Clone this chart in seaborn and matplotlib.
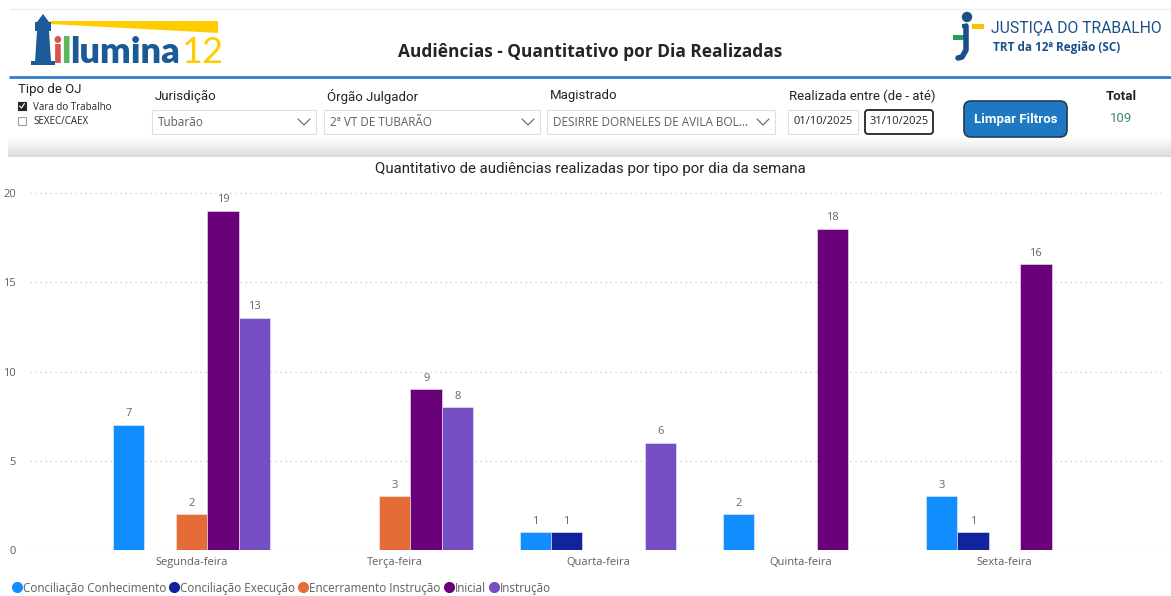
import numpy as np
import pandas as pd
import matplotlib
matplotlib.use("Agg")
import matplotlib.pyplot as plt
from matplotlib.patches import Rectangle, FancyBboxPatch, Polygon, Circle
import seaborn as sns

# Data
dias = ["Segunda-feira", "Terça-feira", "Quarta-feira", "Quinta-feira", "Sexta-feira"]
tipos = ["Conciliação Conhecimento", "Conciliação Execução", "Encerramento Instrução", "Inicial", "Instrução"]
conc_conhecimento = [7, 0, 1, 2, 3]
conc_execucao = [0, 0, 1, 0, 1]
encerramento = [2, 3, 0, 0, 0]
inicial = [19, 9, 0, 18, 16]
instrucao = [13, 8, 6, 0, 0]
cores = ["#118DFF", "#12239E", "#E66C37", "#6B007B", "#744EC2"]
y_ticks = [0, 5, 10, 15, 20]

valores = [conc_conhecimento, conc_execucao, encerramento, inicial, instrucao]
rows = []
for tipo, vals in zip(tipos, valores):
    for dia, v in zip(dias, vals):
        rows.append({"Dia": dia, "Tipo": tipo, "Qtd": v})
df = pd.DataFrame(rows)

sns.set_style("white")
plt.rcParams["font.family"] = ["Open Sans", "DejaVu Sans"]

W, H = 1171, 596
fig = plt.figure(figsize=(W / 100, H / 100), dpi=100)

# background axes in pixel coords for the dashboard header
bg = fig.add_axes([0, 0, 1, 1])
bg.set_xlim(0, W)
bg.set_ylim(H, 0)
bg.axis("off")

# faint top border and blue separator
bg.plot([10, W], [9, 9], color="#eeeeee", lw=1)
bg.plot([10, W], [77, 77], color="#2f7fd0", lw=2)

# shadow under filters panel
grad = np.linspace(1.0, 0.86, 40).reshape(-1, 1)
bg.imshow(np.dstack([grad, grad, grad]), extent=[8, W, 157, 137], aspect="auto", zorder=0)

# illumina logo
dark_blue = "#1a5a96"
bg.add_patch(Polygon([[50, 21], [218, 21], [218, 33], [50, 24]], closed=True, color="#ffcc00", lw=0))
bg.add_patch(Polygon([[35, 62], [37, 31], [49, 31], [51, 62]], closed=True, color=dark_blue, lw=0))
bg.add_patch(Rectangle((35, 22), 16, 9, color=dark_blue, lw=0))
bg.add_patch(Polygon([[37, 22], [43, 14], [49, 22]], closed=True, color=dark_blue, lw=0))
bg.add_patch(Rectangle((31, 61), 24, 4, color=dark_blue, lw=0))
logo = dict(fontsize=26, fontweight="heavy", va="baseline", family=["Lato", "DejaVu Sans"])
bg.text(53, 63, "i", color="#d9534f", **logo)
bg.text(61, 63, "l", color="#5cb85c", **logo)
bg.text(70, 63, "lumina", color=dark_blue, **logo)
bg.text(181, 63, "12", color="#ffcc00", fontsize=26, va="baseline", family=["Lato", "DejaVu Sans"])

# header title
bg.text(590, 52, "Audiências - Quantitativo por Dia Realizadas", ha="center", va="center",
        fontsize=12.5, fontweight="bold", color="#252423")

# Justiça do Trabalho logo
bg.add_patch(Circle((967, 17), 4.5, color="#1b4f8a"))
bg.add_patch(Rectangle((972, 24), 12, 5, color="#f5c400", lw=0))
bg.add_patch(Rectangle((953, 35), 13, 5, color="#2a9d5a", lw=0))
bg.plot([962, 968], [26, 26], color="#1b4f8a", lw=3, solid_capstyle="butt")
bg.plot([966, 966, 962, 958], [26, 50, 57, 58], color="#1b4f8a", lw=4, solid_capstyle="round")
bg.text(991, 29, "JUSTIÇA DO TRABALHO", fontsize=11.3, color="#1b4f8a", va="center",
        family=["Roboto", "DejaVu Sans"])
bg.text(993, 47, "TRT da 12ª Região (SC)", fontsize=8.5, fontweight="bold", color="#1b4f8a", va="center")

# filters
lab = dict(fontsize=9.5, color="#252423", va="center", family=["Roboto", "DejaVu Sans"])
bg.text(18, 90, "Tipo de OJ", **lab)
bg.add_patch(Rectangle((18, 102), 8, 8, facecolor="#252423", edgecolor="#252423", lw=0.8))
bg.plot([19.5, 21.5, 24.5], [106, 108, 103.5], color="white", lw=0.8)
bg.text(33, 107, "Vara do Trabalho", fontsize=7, color="#252423", va="center")
bg.add_patch(Rectangle((18, 117), 8, 8, facecolor="white", edgecolor="#a0a0a0", lw=0.8))
bg.text(33, 122, "SEXEC/CAEX", fontsize=7, color="#252423", va="center")

def dropdown(x0, x1, label, texto):
    bg.text(x0 + 3, 96, label, **lab)
    bg.add_patch(Rectangle((x0, 110), x1 - x0, 24, facecolor="white", edgecolor="#e1dfdd", lw=0.8))
    bg.text(x0 + 6, 122, texto, fontsize=8.5, color="#605e5c", va="center")
    bg.plot([x1 - 18, x1 - 12, x1 - 6], [119, 125, 119], color="#605e5c", lw=0.8)

dropdown(152, 316, "Jurisdição", "Tubarão")
dropdown(324, 540, "Órgão Julgador", "2ª VT DE TUBARÃO")
dropdown(547, 775, "Magistrado", "DESIRRE DORNELES DE AVILA BOL...")

bg.text(789, 96, "Realizada entre (de - até)", **lab)
bg.add_patch(Rectangle((788, 110), 70, 24, facecolor="white", edgecolor="#e1dfdd", lw=0.8))
bg.text(823, 122, "01/10/2025", fontsize=8, color="#252423", ha="center", va="center")
bg.add_patch(FancyBboxPatch((865, 110), 68, 24, boxstyle="round,pad=0,rounding_size=3",
                            facecolor="white", edgecolor="#252423", lw=1.3))
bg.text(899, 122, "31/10/2025", fontsize=8, color="#252423", ha="center", va="center")

bg.add_patch(FancyBboxPatch((964, 101), 103, 36, boxstyle="round,pad=0,rounding_size=7",
                            facecolor="#1f79c2", edgecolor="#1c3d5a", lw=1.2))
bg.text(1015.5, 119, "Limpar Filtros", fontsize=9.5, fontweight="bold", color="white",
        ha="center", va="center", family=["Roboto", "DejaVu Sans"])

bg.text(1121, 96, "Total", fontsize=9.5, fontweight="bold", color="#252423", ha="center", va="center",
        family=["Roboto", "DejaVu Sans"])
bg.text(1121, 118, "109", fontsize=9.5, color="#3c8a63", ha="center", va="center",
        family=["Roboto", "DejaVu Sans"])

# chart title
bg.text(590, 169, "Quantitativo de audiências realizadas por tipo por dia da semana", ha="center",
        va="center", fontsize=10.8, color="#252423", family=["Roboto", "DejaVu Sans"])

# bar chart
ax_l, ax_r, ax_t, ax_b = 30, 1165, 180, 550
ax = fig.add_axes([ax_l / W, 1 - ax_b / H, (ax_r - ax_l) / W, (ax_b - ax_t) / H])
ax.patch.set_alpha(0)
sns.barplot(data=df, x="Dia", y="Qtd", hue="Tipo", order=dias, hue_order=tipos,
            palette=dict(zip(tipos, cores)), saturation=1, width=0.772,
            edgecolor="#f0f0f0", linewidth=0.4, legend=False, ax=ax, zorder=3)

for cont in ax.containers:
    labels = [str(int(b.get_height())) if b.get_height() > 0 else "" for b in cont]
    ax.bar_label(cont, labels=labels, padding=4, fontsize=8, color="#666666")

ymax = 20 + (193 - ax_t) / ((ax_b - 193) / 20)
ax.set_ylim(0, ymax)
ax.set_xlim(-0.795, 4.79)
ax.set_yticks(y_ticks)
for y in y_ticks:
    ax.axhline(y, color="#c8c6c4", lw=0.9, ls=(0, (1, 3)), zorder=1)
for s in ax.spines.values():
    s.set_visible(False)
ax.tick_params(axis="both", length=0, labelsize=8, labelcolor="#605e5c")
ax.tick_params(axis="y", pad=10)
ax.tick_params(axis="x", pad=5)
ax.set_xlabel("")
ax.set_ylabel("")

# legend: round markers followed by text, laid out left to right
renderer = fig.canvas.get_renderer()
x = 12
for tipo, cor in zip(tipos, cores):
    bg.plot(x + 5, 587, "o", color=cor, ms=7)
    t = bg.text(x + 11, 587, tipo, fontsize=8.4, color="#605e5c", va="center_baseline")
    x = x + 11 + t.get_window_extent(renderer).width + 3

fig.savefig("out.png", dpi=100)
